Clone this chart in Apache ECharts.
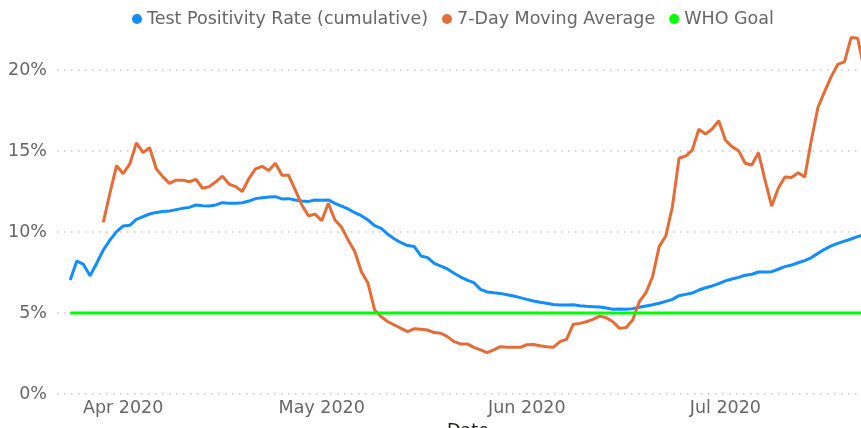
<!DOCTYPE html>
<html>
<head>
<meta charset="utf-8">
<script src="https://cdn.jsdelivr.net/npm/echarts@6/dist/echarts.min.js"></script>
<style>
html, body { margin: 0; padding: 0; background: #fff; }
#chart { width: 861px; height: 428px; }
</style>
</head>
<body>
<div id="chart"></div>
<script>
// daily values, one per day from the start date
var positivityStart = '2020-03-24'
var positivity = [
    7.04, 8.21, 8.0, 7.3, 8.07, 8.89, 9.5, 10.02, 10.37, 10.41,
    10.78, 10.95, 11.11, 11.21, 11.27, 11.3, 11.38, 11.46, 11.52, 11.67,
    11.62, 11.6, 11.67, 11.81, 11.77, 11.77, 11.81, 11.91, 12.06, 12.12,
    12.16, 12.18, 12.04, 12.06, 11.98, 11.91, 11.89, 11.98, 11.96, 11.98,
    11.77, 11.6, 11.42, 11.19, 11.01, 10.74, 10.39, 10.23, 9.86, 9.57,
    9.34, 9.16, 9.1, 8.52, 8.42, 8.07, 7.9, 7.72, 7.45, 7.22,
    7.03, 6.87, 6.46, 6.3, 6.25, 6.21, 6.13, 6.05, 5.95, 5.84,
    5.74, 5.66, 5.6, 5.53, 5.49, 5.49, 5.51, 5.45, 5.41, 5.39,
    5.37, 5.31, 5.23, 5.25, 5.23, 5.27, 5.35, 5.43, 5.51, 5.6,
    5.72, 5.84, 6.07, 6.15, 6.23, 6.42, 6.56, 6.67, 6.81, 6.98,
    7.1, 7.2, 7.33, 7.39, 7.53, 7.53, 7.55, 7.7, 7.86, 7.96,
    8.1, 8.23, 8.42, 8.68, 8.93, 9.14, 9.3, 9.44, 9.57, 9.71,
    9.85
]
var movingAvgStart = '2020-03-29'
var movingAvg = [
    10.6, 12.4, 14.1, 13.6, 14.2, 15.5, 14.9, 15.2, 13.9, 13.4,
    13.0, 13.2, 13.2, 13.1, 13.25, 12.7, 12.8, 13.1, 13.45, 12.96,
    12.8, 12.5, 13.3, 13.9, 14.05, 13.8, 14.24, 13.5, 13.5, 12.6,
    11.67, 11.0, 11.1, 10.7, 11.77, 10.74, 10.3, 9.5, 8.8, 7.55,
    6.83, 5.19, 4.77, 4.46, 4.26, 4.05, 3.85, 4.03, 3.99, 3.95,
    3.79, 3.75, 3.54, 3.23, 3.09, 3.09, 2.88, 2.72, 2.55, 2.72,
    2.92, 2.88, 2.88, 2.88, 3.04, 3.05, 2.98, 2.92, 2.88, 3.23,
    3.37, 4.3, 4.36, 4.46, 4.61, 4.81, 4.71, 4.46, 4.05, 4.11,
    4.57, 5.7, 6.25, 7.24, 9.1, 9.75, 11.56, 14.55, 14.69, 15.06,
    16.34, 16.05, 16.36, 16.87, 15.68, 15.27, 15.02, 14.24, 14.14, 14.9,
    13.2, 11.6, 12.7, 13.4, 13.37, 13.66, 13.4, 15.68, 17.7, 18.66,
    19.59, 20.35, 20.5, 22.0, 21.96, 20.0
]
var whoGoalDates = ['2020-03-24', '2020-07-22']
var whoGoal = [5, 5]

var monthTicks = ['2020-04-01', '2020-05-01', '2020-06-01', '2020-07-01']
var monthLabels = ['Apr 2020', 'May 2020', 'Jun 2020', 'Jul 2020']
var yTicks = [0, 5, 10, 15, 20]

var origin = Date.UTC(2020, 3, 1)
function dayOf(str) {
    var p = str.split('-')
    return Math.round((Date.UTC(+p[0], +p[1] - 1, +p[2]) - origin) / 86400000)
}
function daily(start, values) {
    var d0 = dayOf(start)
    return values.map(function (v, i) { return [d0 + i, v] })
}

var tickDays = monthTicks.map(dayOf)
var font = "'DejaVu Sans', sans-serif"

var option = {
    animation: false,
    textStyle: { fontFamily: font },
    legend: {
        top: 5,
        left: 127,
        icon: 'circle',
        itemWidth: 10,
        itemHeight: 10,
        itemGap: 14,
        textStyle: { fontSize: 17.5, color: '#666666', fontFamily: font },
        data: ['Test Positivity Rate (cumulative)', '7-Day Moving Average', 'WHO Goal']
    },
    grid: { left: 57, right: 0, top: 29.5, bottom: 34, outerBoundsMode: 'none' },
    xAxis: {
        type: 'value',
        min: -10,
        max: 111.5,
        name: 'Date',
        nameLocation: 'middle',
        nameGap: 28,
        nameTextStyle: { fontSize: 17.5, color: '#252423', padding: [0, 0, 0, 18] },
        axisLine: { show: false },
        axisTick: { show: false },
        splitLine: { show: false },
        axisLabel: {
            customValues: tickDays,
            fontSize: 17.5,
            color: '#666666',
            margin: 5,
            formatter: function (v) {
                var i = tickDays.indexOf(Math.round(v))
                return i >= 0 ? monthLabels[i] : ''
            }
        }
    },
    yAxis: {
        type: 'value',
        min: yTicks[0],
        max: 22.5,
        interval: 5,
        axisLine: { show: false },
        axisTick: { show: false },
        axisLabel: {
            fontSize: 17.5,
            color: '#666666',
            margin: 10,
            showMaxLabel: false,
            formatter: function (v) { return yTicks.indexOf(v) >= 0 ? v + '%' : '' }
        },
        splitLine: {
            showMaxLine: false,
            lineStyle: { color: '#c8c8c8', width: 1.5, type: [1.5, 5.5] }
        }
    },
    series: [{
        name: 'Test Positivity Rate (cumulative)',
        type: 'line',
        showSymbol: false,
        color: '#118DFF',
        lineStyle: { width: 3 },
        data: daily(positivityStart, positivity)
    }, {
        name: '7-Day Moving Average',
        type: 'line',
        showSymbol: false,
        color: '#E66C37',
        lineStyle: { width: 3 },
        data: daily(movingAvgStart, movingAvg)
    }, {
        name: 'WHO Goal',
        type: 'line',
        showSymbol: false,
        color: '#00FF00',
        lineStyle: { width: 3 },
        data: whoGoalDates.map(function (d, i) { return [dayOf(d), whoGoal[i]] })
    }]
}

echarts.init(document.getElementById('chart')).setOption(option)
</script>
</body>
</html>
